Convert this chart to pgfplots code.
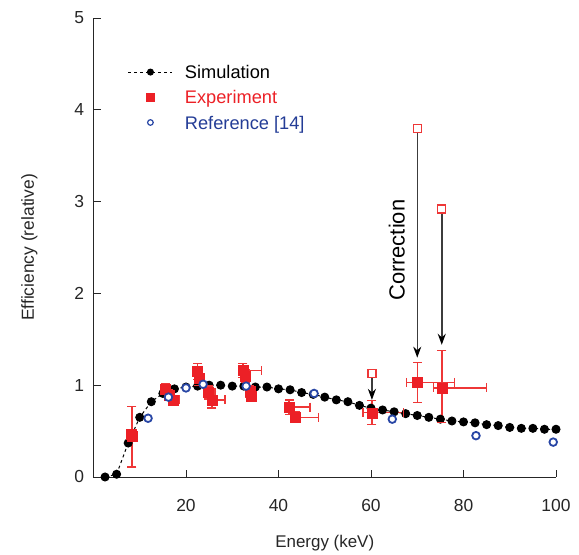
\documentclass[border=0pt]{standalone}
\usepackage{fontspec}
\setmainfont{Liberation Sans}
\usepackage{pgfplots}
\pgfplotsset{compat=1.18}
\usetikzlibrary{arrows.meta,calc}
\definecolor{expred}{RGB}{236,32,38}
\definecolor{errred}{RGB}{238,55,55}
\definecolor{refblue}{RGB}{40,70,165}
\definecolor{legblue}{RGB}{35,60,150}
\definecolor{arrgray}{RGB}{60,60,60}

\pgfplotsset{
  simleg/.style={legend image code/.code={\draw[##1, mark size=3bp, mark repeat=2, mark phase=2]
      plot coordinates {(0bp,0bp) (22bp,0bp) (44bp,0bp)};}},
  expleg/.style={legend image code/.code={\draw[##1, mark size=4bp] plot coordinates {(22bp,0bp)};}},
  refleg/.style={legend image code/.code={\draw[##1, mark size=2.8bp, line width=1.2bp] plot coordinates {(22bp,0bp)};}},
  /pgfplots/every error bar/.style={line width=1.5bp, draw=errred, color=errred, solid},
  /pgfplots/error bars/error mark=none,
  capstyle/.style={forget plot, only marks, mark size=4.5bp, errred,
     mark options={line width=1.3bp, draw=errred}},
}

\begin{document}
\begin{tikzpicture}
\begin{axis}[
   scale only axis,
   width=462.5bp, height=459bp,
   xmin=0, xmax=100, ymin=0, ymax=5,
   clip=false,
   axis x line*=bottom, axis y line*=left,
   axis line style={line width=0.9bp, black!85},
   tick align=inside, major tick length=7bp,
   tick style={line width=0.9bp, black!85},
   xtick pos=lower, ytick pos=left,
   xtick={20,40,60,80,100}, ytick={0,1,2,3,4,5},
   /pgf/number format/assume math mode=true,
   ticklabel style={font=\fontsize{17.5}{20}\selectfont, text=black!85},
   xticklabel style={yshift=-19bp},
   yticklabel style={xshift=-6bp},
   xlabel={Energy (keV)}, ylabel={Efficiency (relative)},
   xlabel style={font=\fontsize{17}{20}\selectfont, text=black!85, yshift=-17bp},
   ylabel style={font=\fontsize{17.5}{20}\selectfont, text=black!85, yshift=30bp},
   legend style={at={(rel axis cs:0.074,0.897)}, anchor=north west,
      draw=none, fill=none, inner sep=0pt, row sep=12bp, column sep=12bp,
      font=\fontsize{18.3}{20}\selectfont,
      nodes={inner sep=0pt, text depth=0pt}},
   legend cell align=left,
 ]
\coordinate (sw) at (rel axis cs:0,0);
\coordinate (ne) at (rel axis cs:1,1);

% simulation
\addplot[black, dashed, line width=1bp, mark=*, mark size=4bp,
   mark options={solid}, simleg]
coordinates {
(2.5,0.0)(5,0.03)(7.5,0.37)(10,0.65)(12.5,0.82)(15,0.91)(17.5,0.96)(20,0.98)
(22.5,0.99)(25,1.0)(27.5,1.0)(30,0.99)(32.5,0.99)(35,0.98)(37.5,0.98)(40,0.96)
(42.5,0.95)(45,0.92)(47.5,0.90)(50,0.87)(52.5,0.84)(55,0.82)(57.5,0.78)(60,0.75)
(62.5,0.73)(65,0.71)(67.5,0.69)(70,0.67)(72.5,0.65)(75,0.63)(77.5,0.61)(80,0.60)
(82.5,0.59)(85,0.57)(87.5,0.56)(90,0.54)(92.5,0.53)(95,0.53)(97.5,0.52)(100,0.52)
};
\addlegendentry{Simulation}

% error bar caps (y ends, then x ends)
\addplot[capstyle, mark=-] coordinates {
(8.3,0.77)(8.3,0.11)(8.2,0.52)(8.2,0.42)(15.5,1.02)(15.5,0.90)(16.3,0.95)(16.3,0.83)
(17.3,0.89)(17.3,0.79)(22.5,1.24)(22.5,1.06)(22.8,1.16)(22.8,1.00)(24.8,0.99)(24.8,0.85)
(25.6,0.93)(25.6,0.75)(32.3,1.24)(32.3,1.08)(32.8,1.17)(32.8,1.03)(33.8,0.99)(33.8,0.87)
(34.2,0.94)(34.2,0.82)(42.3,0.84)(42.3,0.68)(43.7,0.71)(43.7,0.59)(60.2,0.83)(60.2,0.57)
(70,1.25)(70,0.81)(75.3,1.38)(75.3,0.59)
};
\addplot[capstyle, mark=|] coordinates {
(8.7,0.44)(7.9,0.44)(8.6,0.47)(7.8,0.47)(16.3,0.96)(14.7,0.96)(17.5,0.89)(15.5,0.89)
(18.5,0.84)(16.5,0.84)(23.1,1.15)(21.9,1.15)(23.4,1.08)(22.2,1.08)(26.3,0.92)(23.8,0.92)
(28.4,0.84)(24.6,0.84)(36.3,1.16)(31.3,1.16)(33.6,1.10)(32.0,1.10)(34.8,0.93)(32.8,0.93)
(35.2,0.88)(33.2,0.88)(46.8,0.76)(41.3,0.76)(48.7,0.65)(42.7,0.65)(67.0,0.70)(58.3,0.70)
(78.0,1.03)(67.6,1.03)(84.9,0.97)(73.5,0.97)
};

% experiment
\addplot[only marks, mark=square*, mark size=5bp, color=expred,
   mark options={fill=expred, draw=expred}, expleg,
   error bars/x dir=both, error bars/x explicit,
   error bars/y dir=both, error bars/y explicit]
coordinates {
(8.3,0.44) += (0.4,0.33) -= (0.4,0.33)
(8.2,0.47) += (0.4,0.05) -= (0.4,0.05)
(15.5,0.96) += (0.8,0.06) -= (0.8,0.06)
(16.3,0.89) += (1.2,0.06) -= (0.8,0.06)
(17.3,0.84) += (1.2,0.05) -= (0.8,0.05)
(22.5,1.15) += (0.6,0.09) -= (0.6,0.09)
(22.8,1.08) += (0.6,0.08) -= (0.6,0.08)
(24.8,0.92) += (1.5,0.07) -= (1.0,0.07)
(25.6,0.84) += (2.8,0.09) -= (1.0,0.09)
(32.3,1.16) += (4.0,0.08) -= (1.0,0.08)
(32.8,1.10) += (0.8,0.07) -= (0.8,0.07)
(33.8,0.93) += (1.0,0.06) -= (1.0,0.06)
(34.2,0.88) += (1.0,0.06) -= (1.0,0.06)
(42.3,0.76) += (4.5,0.08) -= (1.0,0.08)
(43.7,0.65) += (5.0,0.06) -= (1.0,0.06)
(60.2,0.70) += (6.8,0.13) -= (1.9,0.13)
(70,1.03) += (8.0,0.22) -= (2.4,0.22)
(75.3,0.97) += (9.6,0.41) -= (1.8,0.38)
};
\addlegendentry{\textcolor{expred}{Experiment}}

% reference [14]
\addplot[only marks, mark=*, mark size=3.8bp, line width=1.8bp,
   mark options={draw=refblue, fill=white}, refleg]
coordinates {
(11.8,0.64)(16.2,0.87)(20,0.97)(23.7,1.01)(33,0.99)(47.7,0.91)(64.6,0.63)(82.7,0.45)(99.4,0.38)
};
\addlegendentry{\textcolor{legblue}{Reference [14]}}

% corrections
\addplot[forget plot, arrgray, line width=1.5bp,
   -{Stealth[length=11bp,width=8bp,black]}] coordinates {(60.2,1.08)(60.2,0.84)};
\addplot[forget plot, arrgray, line width=1.5bp,
   -{Stealth[length=11bp,width=8bp,black]}] coordinates {(70,3.76)(70,1.30)};
\addplot[forget plot, arrgray, line width=1.5bp,
   -{Stealth[length=11bp,width=8bp,black]}] coordinates {(75.3,2.88)(75.3,1.44)};
\addplot[forget plot, only marks, mark=square, mark size=4bp, errred, line width=1.2bp]
coordinates {(60.2,1.13)(70,3.80)(75.3,2.92)};

\node[rotate=90, font=\fontsize{22}{26}\selectfont] at (axis cs:65.6,2.47) {Correction};
\end{axis}
\pgfresetboundingbox
\path ($(sw)+(-93.5bp,-78bp)$) rectangle ($(ne)+(23bp,18bp)$);
\end{tikzpicture}
\end{document}
